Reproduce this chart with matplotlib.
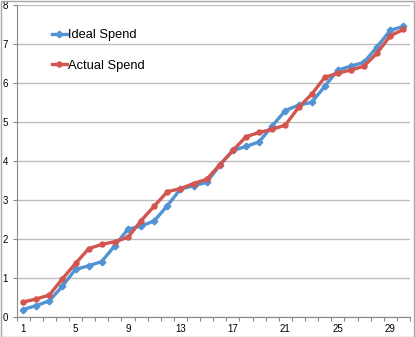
import matplotlib.pyplot as plt
from matplotlib.patches import Rectangle
from matplotlib.ticker import MultipleLocator

# values
days = list(range(1, 31))
ideal_spend = [0.20, 0.30, 0.42, 0.80, 1.23, 1.32, 1.43, 1.84, 2.26, 2.34,
               2.47, 2.86, 3.29, 3.37, 3.46, 3.90, 4.28, 4.38, 4.50, 4.91,
               5.30, 5.44, 5.51, 5.92, 6.34, 6.44, 6.54, 6.94, 7.36, 7.46]
actual_spend = [0.39, 0.47, 0.57, 0.99, 1.38, 1.76, 1.87, 1.94, 2.05, 2.48,
                2.85, 3.22, 3.30, 3.43, 3.54, 3.91, 4.28, 4.63, 4.74, 4.82,
                4.93, 5.38, 5.72, 6.15, 6.26, 6.34, 6.44, 6.78, 7.22, 7.38]
x_labels = [1, 5, 9, 13, 17, 21, 25, 29]

blue = "#5293D4"
red = "#D2554F"
grid_gray = "#BDBDBD"

plt.rcParams["font.family"] = ["Liberation Sans", "DejaVu Sans"]

fig = plt.figure(figsize=(4.15, 3.37), dpi=100)
W, H = 415, 337
ax = fig.add_axes([16.5 / W, 19.7 / H, (410 - 16.5) / W, (317.3 - 5.3) / H])

ax.plot(days, ideal_spend, color=blue, lw=2.4, marker="D", ms=3.4,
        label="Ideal Spend", zorder=3)
ax.plot(days, actual_spend, color=red, lw=2.4, marker="o", ms=3.6,
        label="Actual Spend", zorder=3)

ax.set_xlim(0.5, 30.5)
ax.set_ylim(0, 8)
ax.set_xticks(x_labels)
ax.set_xticklabels([str(v) for v in x_labels], fontsize=7)
ax.xaxis.set_minor_locator(MultipleLocator(1, offset=0.5))
ax.tick_params(axis="x", which="major", length=0, pad=5)
ax.tick_params(axis="x", which="minor", length=3, color="#888888", width=0.8)
ax.set_yticks(range(0, 9))
ax.tick_params(axis="y", which="major", length=3, color="#888888",
               width=0.8, labelsize=7, pad=3)
ax.yaxis.grid(True, color=grid_gray, lw=1.0)
ax.set_axisbelow(True)

for side in ["top", "right"]:
    ax.spines[side].set_visible(False)
for side in ["left", "bottom"]:
    ax.spines[side].set_color("#888888")
    ax.spines[side].set_linewidth(0.8)

ax.legend(loc="upper left", bbox_to_anchor=(0.078, 0.94), frameon=False,
          fontsize=9.3, handlelength=1.1, handletextpad=0.1,
          labelspacing=1.45, borderaxespad=0)

# outer chart border
fig.patches.append(Rectangle((0.5 / W, 0.5 / H), 1 - 1.5 / W, 1 - 1.5 / H,
                             transform=fig.transFigure, fill=False,
                             edgecolor="#A6A6A6", lw=1.0))

fig.savefig("out.png", dpi=100)
